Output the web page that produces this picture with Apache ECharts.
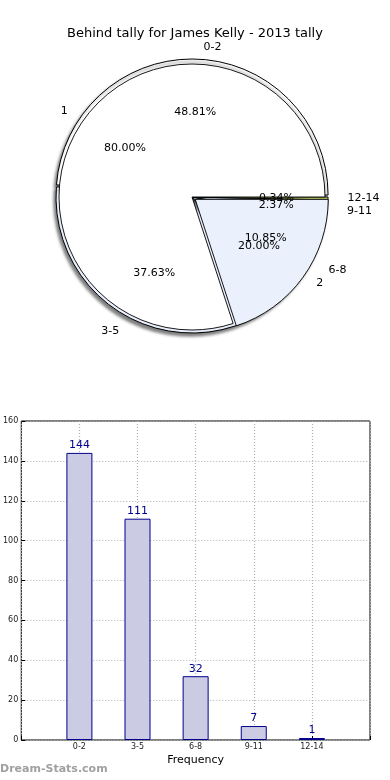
<!DOCTYPE html>
<html><head><meta charset="utf-8">
<script src="https://cdn.jsdelivr.net/npm/echarts@6/dist/echarts.min.js"></script>
<style>html,body{margin:0;padding:0;background:#fff}#c{width:390px;height:780px}</style>
</head><body><div id="c"></div>
<script>
const chartTitle = 'Behind tally for James Kelly - 2013 tally';
const categories = ['0-2', '3-5', '6-8', '9-11', '12-14'];
const counts = [144, 111, 32, 7, 1];
const splitNames = ['1', '2'];
const splitValues = [80, 20];
const yTicks = [0, 20, 40, 60, 80, 100, 120, 140, 160];
const xAxisTitle = 'Frequency';
const watermark = 'Dream-Stats.com';

const FONT = 'DejaVu Sans';
const R = 133, CX = 192, CY = 197;
const colorsA = ['#ffffff', '#e8eefb', '#dde6f7', '#cfdcf2', '#c8d96a'];
const colorsB = ['#ffffff', '#eaf0fc'];
const clear = 'rgba(0,0,0,0)';

function pieBase(radius, z) {
  return {
    type: 'pie', center: [CX, CY], radius: radius, startAngle: 0, clockwise: false,
    silent: true, z: z, avoidLabelOverlap: false, animation: false,
    emphasis: { disabled: true }, minShowLabelAngle: 0,
    labelLayout: { hideOverlap: false }
  };
}
function pctLabels(names, values, r) {
  return Object.assign(pieBase([0, 1.2 * r], 6), {
    data: names.map((n, i) => ({ name: n, value: values[i] })),
    itemStyle: { color: clear, borderWidth: 0 },
    label: { show: true, position: 'inside', color: '#000', fontSize: 11, fontFamily: FONT,
      overflow: 'none', formatter: p => p.percent.toFixed(2) + '%' },
    labelLine: { show: false }
  });
}
function nameLabels(names, values, r) {
  return Object.assign(pieBase([0, 1.1 * r], 6), {
    data: names.map((n, i) => ({ name: n, value: values[i] })),
    itemStyle: { color: clear, borderWidth: 0 },
    label: { show: true, position: 'outside', color: '#000', fontSize: 11, fontFamily: FONT,
      formatter: '{b}', distanceToLabelLine: 6 },
    labelLine: { show: false, length: 0, length2: 0 }
  });
}

const chart = echarts.init(document.getElementById('c'), null, { renderer: 'canvas' });
chart.setOption({
  animation: false,
  backgroundColor: '#fff',
  title: { text: chartTitle, left: 'center', top: 22,
    textStyle: { fontFamily: FONT, fontSize: 13, fontWeight: 'normal', color: '#000' } },
  graphic: [{ type: 'text', left: 0, top: 764, silent: true,
    style: { text: watermark, fill: '#a0a0a0', font: 'bold 11px "DejaVu Sans"' } }],
  grid: { left: 19, top: 421, right: 20, bottom: 40, show: true, borderColor: '#000', borderWidth: 1,
    backgroundColor: clear },
  xAxis: {
    type: 'value', min: 0, max: 6, interval: 1,
    name: xAxisTitle, nameLocation: 'middle', nameGap: 15,
    nameTextStyle: { fontFamily: FONT, fontSize: 11, color: '#000' },
    axisLine: { show: false },
    axisTick: { show: true, inside: true, length: 4, lineStyle: { color: '#000' } },
    axisLabel: { fontFamily: FONT, fontSize: 8, color: '#222', margin: 3,
      formatter: v => categories[v - 1] || '' },
    splitLine: { show: true, lineStyle: { type: [1, 2], color: '#b0b0b0', width: 1.2 } }
  },
  yAxis: {
    type: 'value', min: yTicks[0], max: yTicks[yTicks.length - 1], interval: yTicks[1] - yTicks[0],
    axisLine: { show: false },
    axisTick: { show: true, inside: true, length: 4, lineStyle: { color: '#000' } },
    axisLabel: { fontFamily: FONT, fontSize: 8, color: '#222', margin: 3 },
    splitLine: { show: true, lineStyle: { type: [1, 2], color: '#b0b0b0', width: 1.2 } }
  },
  series: [
    Object.assign(pieBase([0, R + 3], 2), {
      selectedMode: 'multiple', selectedOffset: 2,
      data: categories.map((n, i) => ({ name: n, value: counts[i], selected: i === 0,
        itemStyle: { color: colorsA[i] } })),
      itemStyle: { borderColor: '#000', borderWidth: 1, shadowBlur: 3, shadowColor: 'rgba(0,0,0,0.5)',
        shadowOffsetX: -2, shadowOffsetY: 3 },
      label: { show: false }, labelLine: { show: false }
    }),
    Object.assign(pieBase([0, R], 3), {
      selectedMode: 'multiple', selectedOffset: 4,
      data: splitNames.map((n, i) => ({ name: n, value: splitValues[i], selected: i === 1,
        itemStyle: { color: colorsB[i] } })),
      itemStyle: { borderColor: '#000', borderWidth: 0.9 },
      label: { show: false }, labelLine: { show: false }
    }),
    pctLabels(categories, counts, R + 3),
    nameLabels(categories, counts, R + 3),
    pctLabels(splitNames, splitValues, R),
    nameLabels(splitNames, splitValues, R),
    {
      type: 'bar', silent: true, barWidth: 26,
      data: counts.map((v, i) => [i + 1, v]),
      itemStyle: { color: '#cbcbe3', borderColor: '#00008b', borderWidth: 1 },
      label: { show: true, position: 'top', color: '#00008b', fontSize: 11, fontFamily: FONT, distance: 2,
        formatter: p => p.value[1] }
    }
  ]
});
</script>
</body></html>
